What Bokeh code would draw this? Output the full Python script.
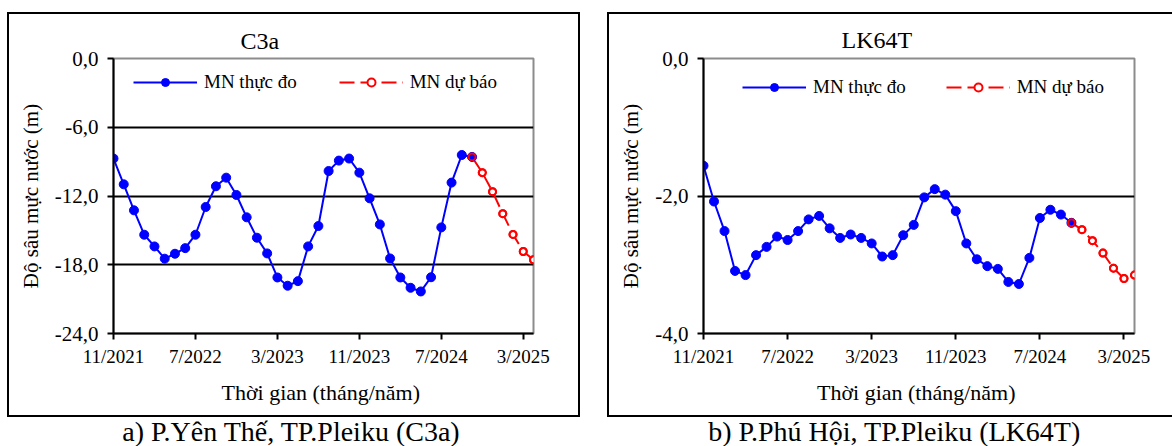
from bokeh.plotting import figure
from bokeh.models import (Range1d, FixedTicker, Legend, LegendItem, Label,
                          ColumnDataSource, Spacer)
from bokeh.layouts import row, column
from bokeh.embed import file_html
from bokeh.resources import INLINE

FONT = "Liberation Serif"

# ---------------- data ----------------
month_ticks = [0, 8, 16, 24, 32, 40]
month_tick_labels = ["11/2021", "7/2022", "3/2023", "11/2023", "7/2024", "3/2025"]

measured_months = list(range(0, 36))   # 11/2021 .. 10/2024
forecast_months = list(range(35, 42))  # 10/2024 .. 4/2025

c3a_measured = [-8.73, -10.98, -13.25, -15.38, -16.40, -17.47, -17.04, -16.55, -15.38, -12.96,
                -11.15, -10.40, -11.91, -13.86, -15.64, -17.01, -19.11, -19.83, -19.43, -16.40,
                -14.62, -9.82, -8.91, -8.73, -9.96, -12.20, -14.48, -17.45, -19.11, -20.01,
                -20.33, -19.09, -14.74, -10.83, -8.42, -8.59]
c3a_forecast = [-8.59, -9.96, -11.62, -13.54, -15.35, -16.84, -17.56]

lk64t_measured = [-1.56, -2.08, -2.51, -3.09, -3.15, -2.86, -2.74, -2.59, -2.64, -2.51,
                  -2.34, -2.29, -2.47, -2.61, -2.56, -2.61, -2.69, -2.88, -2.86, -2.57,
                  -2.42, -2.02, -1.90, -1.98, -2.22, -2.69, -2.92, -3.02, -3.06, -3.25,
                  -3.28, -2.90, -2.32, -2.20, -2.27, -2.39]
lk64t_forecast = [-2.39, -2.49, -2.65, -2.83, -3.05, -3.20, -3.15]

c3a_yticks = [0, -6, -12, -18, -24]
c3a_ytick_labels = ["0,0", "-6,0", "-12,0", "-18,0", "-24,0"]
c3a_grid = [-6, -12, -18]
lk64t_yticks = [0, -2, -4]
lk64t_ytick_labels = ["0,0", "-2,0", "-4,0"]
lk64t_grid = [-2]

series_measured = "MN thực đo"
series_forecast = "MN dự báo"
x_title = "Thời gian  (tháng/năm)"
y_title = "Độ sâu mực nước (m)"
caption_a = "a) P.Yên Thế, TP.Pleiku (C3a)"
caption_b = "b) P.Phú Hội, TP.Pleiku (LK64T)"

# box edges (the bottom edge is drawn by the caption strip)
BOX_LTR = "inset 2px 0 0 0 #000, inset 0 2px 0 0 #000, inset -2px 0 0 0 #000"
BOX_LT = "inset 2px 0 0 0 #000, inset 0 2px 0 0 #000"
BOX_BOTTOM = "inset 0 2px 0 0 #000"


def make_chart(width, height, mb_left, mb_right, mb_top, mb_bottom, ymin, yticks, ylabels,
               grid, meas, fc, title, title_offset, title_standoff, leg_x, leg_y, leg_spacing,
               box_css):
    p = figure(width=width, height=height, x_range=Range1d(0, 41), y_range=Range1d(ymin, 0),
               output_backend="svg", toolbar_location=None,
               min_border_left=mb_left, min_border_right=mb_right,
               min_border_top=mb_top, min_border_bottom=mb_bottom,
               styles={"box-shadow": box_css})
    p.background_fill_color = "white"
    p.border_fill_alpha = 0
    p.outline_line_color = "#8c8c8c"
    p.outline_line_width = 2

    p.title.text = title
    p.title.align = "left"
    p.title.offset = title_offset
    p.title.standoff = title_standoff
    p.title.text_font = FONT
    p.title.text_font_size = "24px"
    p.title.text_font_style = "normal"
    p.title.text_color = "black"

    p.xgrid.visible = False
    p.ygrid.ticker = FixedTicker(ticks=grid)
    p.ygrid.grid_line_color = "black"
    p.ygrid.grid_line_width = 2

    for ax in (p.xaxis[0], p.yaxis[0]):
        ax.axis_line_color = "black"
        ax.axis_line_width = 2
        ax.major_tick_line_color = "black"
        ax.major_tick_line_width = 2
        ax.major_tick_in = 0
        ax.major_tick_out = 6
        ax.minor_tick_line_color = None
        ax.major_label_text_font = FONT
        ax.major_label_text_color = "black"
        ax.axis_label_text_font = FONT
        ax.axis_label_text_font_style = "normal"
        ax.axis_label_text_color = "black"

    p.xaxis.ticker = FixedTicker(ticks=month_ticks)
    p.xaxis.major_label_overrides = {t: l for t, l in zip(month_ticks, month_tick_labels)}
    p.xaxis.major_label_text_font_size = "19px"
    p.xaxis.major_label_standoff = 6
    p.xaxis.axis_label = x_title
    p.xaxis.axis_label_text_font_size = "22px"
    p.xaxis.axis_label_standoff = 10

    p.yaxis.ticker = FixedTicker(ticks=yticks)
    p.yaxis.major_label_overrides = {t: l for t, l in zip(yticks, ylabels)}
    p.yaxis.major_label_text_font_size = "21px"
    p.yaxis.major_label_standoff = 9
    p.yaxis.axis_label = y_title
    p.yaxis.axis_label_text_font_size = "21px"
    p.yaxis.axis_label_standoff = 9

    src_m = ColumnDataSource(dict(x=measured_months, y=meas))
    src_f = ColumnDataSource(dict(x=forecast_months, y=fc))

    r_fl = p.line("x", "y", source=src_f, line_color="red", line_width=2, line_dash="15 6")
    r_fs = p.scatter("x", "y", source=src_f, marker="circle", size=7, line_width=2,
                     line_color="red", fill_color="white")
    r_ml = p.line("x", "y", source=src_m, line_color="blue", line_width=2)
    r_ms = p.scatter("x", "y", source=src_m, marker="circle", size=9,
                     line_color="blue", fill_color="blue")
    p.scatter("x", "y", source=src_f, marker="circle", size=7, line_width=2,
              line_color="red", fill_color=None)

    legend = Legend(items=[LegendItem(label=series_measured, renderers=[r_ml, r_ms]),
                           LegendItem(label=series_forecast, renderers=[r_fl, r_fs])],
                    orientation="horizontal", location=(leg_x, leg_y),
                    glyph_width=64, glyph_height=20, label_standoff=7, spacing=leg_spacing,
                    padding=0, margin=0, border_line_color=None, background_fill_alpha=0,
                    label_text_font=FONT, label_text_font_size="19px", label_text_color="black")
    p.add_layout(legend)
    return p


def make_caption(width, height, text, cx):
    c = figure(width=width, height=height, x_range=Range1d(0, width), y_range=Range1d(0, height),
               output_backend="svg", toolbar_location=None, x_axis_type=None, y_axis_type=None,
               min_border=0, styles={"box-shadow": BOX_BOTTOM})
    c.outline_line_color = None
    c.border_fill_alpha = 0
    c.background_fill_alpha = 0
    c.title.visible = False
    c.add_layout(Label(x=cx, y=height / 2, x_units="screen", y_units="screen", text=text,
                       text_font=FONT, text_font_size="28px", text_align="center",
                       text_baseline="middle", text_color="black"))
    return c


# left chart: canvas spans x 7..580, y 12..415 of the page
c1 = make_chart(573, 403, 106, 47, 46, 82, -24, c3a_yticks, c3a_ytick_labels, c3a_grid,
                c3a_measured, c3a_forecast, "C3a", 127, 10, 20, 240, 42, BOX_LTR)
# right chart: canvas spans x 607..1172, y 12..415 of the page
c2 = make_chart(565, 403, 96, 38, 41, 82, -4, lk64t_yticks, lk64t_ytick_labels, lk64t_grid,
                lk64t_measured, lk64t_forecast, "LK64T", 138, 12, 39, 235, 40, BOX_LT)

# caption strips: y 415..446, their top edge is the bottom edge of each box
cap1 = make_caption(573, 31, caption_a, 284)
cap2 = make_caption(565, 31, caption_b, 287)

layout = column(Spacer(width=1172, height=12),
                row(Spacer(width=7, height=403), c1, Spacer(width=27, height=403), c2),
                row(Spacer(width=7, height=31), cap1, Spacer(width=27, height=31), cap2))
open("out.html", "w").write(file_html(layout, INLINE))
